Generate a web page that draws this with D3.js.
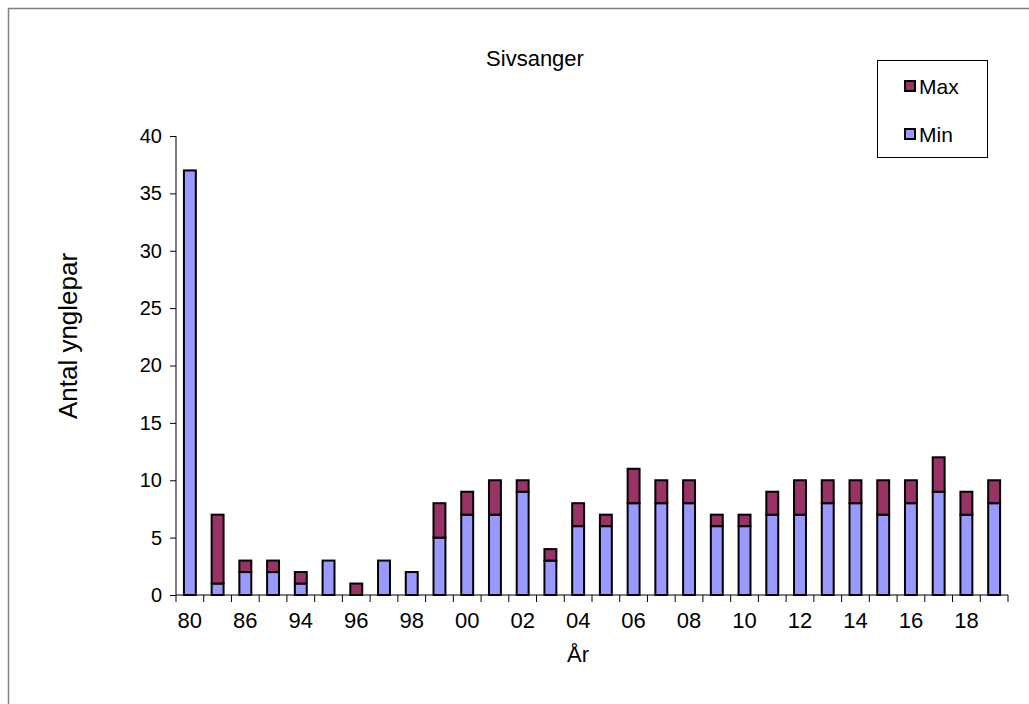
<!DOCTYPE html>
<html><head><meta charset="utf-8">
<script src="https://cdn.jsdelivr.net/npm/d3@7"></script>
<style>body{margin:0;background:#fff}svg{display:block;font-family:"Liberation Sans",Arial,sans-serif}</style>
</head><body><svg id="c" width="1029" height="704"></svg>
<script>
const categories = ["80","85","86","90","94","95","96","97","98","99","00","01","02","03","04","05","06","07","08","09","10","11","12","13","14","15","16","17","18","19"];
const minValues = [37,1,2,2,1,3,0,3,2,5,7,7,9,3,6,6,8,8,8,6,6,7,7,8,8,7,8,9,7,8];
const maxValues = [37,7,3,3,2,3,1,3,2,8,9,10,10,4,8,7,11,10,10,7,7,9,10,10,10,10,10,12,9,10];
const yTicks = [0,5,10,15,20,25,30,35,40];
const seriesNames = ["Max","Min"];
const colors = {Max:"#993366", Min:"#9999FF"};

const svg = d3.select("#c");
svg.append("rect").attr("x",8.5).attr("y",8.5).attr("width",1200).attr("height",900)
  .attr("fill","#fff").attr("stroke","#808080").attr("stroke-width",1.5);

const x = d3.scaleBand().domain(categories).range([176,1008]).paddingInner(0.57).paddingOuter(0.285);
const y = d3.scaleLinear().domain([0,40]).range([595,136]);

// y axis
const ya = svg.append("g").attr("transform","translate(176,0)")
  .call(d3.axisLeft(y).tickValues(yTicks).tickSize(6).tickPadding(8));
ya.selectAll("path,line").attr("stroke","#000");
ya.select(".domain").attr("d","M0,136V595");
ya.selectAll("text").attr("font-size",20).attr("fill","#000").attr("font-family","Liberation Sans, Arial");

// bars
const data = categories.map((c,i)=>({c,min:minValues[i],max:maxValues[i]}));
svg.append("g").selectAll("rect").data(data).join("rect")
  .attr("x",d=>x(d.c)).attr("width",x.bandwidth())
  .attr("y",d=>y(d.min)).attr("height",d=>y(0)-y(d.min))
  .attr("fill",colors.Min).attr("stroke","#000").attr("stroke-width",2);
svg.append("g").selectAll("rect").data(data.filter(d=>d.max>d.min)).join("rect")
  .attr("x",d=>x(d.c)).attr("width",x.bandwidth())
  .attr("y",d=>y(d.max)).attr("height",d=>y(d.min)-y(d.max))
  .attr("fill",colors.Max).attr("stroke","#000").attr("stroke-width",2);

// x axis
const xa = svg.append("g").attr("transform","translate(0,595)");
xa.append("line").attr("x1",176).attr("x2",1008).attr("stroke","#000");
const step = x.step();
const x0 = x.range()[0];
xa.selectAll("line.t").data(d3.range(categories.length+1)).join("line")
  .attr("x1",i=>x0+i*step).attr("x2",i=>x0+i*step)
  .attr("y1",0).attr("y2",7).attr("stroke","#000");
xa.selectAll("text").data(categories.filter((c,i)=>i%2===0)).join("text")
  .attr("x",c=>x(c)+x.bandwidth()/2).attr("y",33).attr("text-anchor","middle")
  .attr("font-size",22).text(c=>c);

// titles
svg.append("text").attr("x",535).attr("y",66).attr("text-anchor","middle").attr("font-size",22).text("Sivsanger");
svg.append("text").attr("transform","translate(77,336) rotate(-90)").attr("text-anchor","middle").attr("font-size",26).text("Antal ynglepar");
svg.append("text").attr("x",578).attr("y",662).attr("text-anchor","middle").attr("font-size",22).text("År");

// legend
const lg = svg.append("g");
lg.append("rect").attr("x",877.5).attr("y",60.5).attr("width",110).attr("height",97).attr("fill","#fff").attr("stroke","#000");
seriesNames.forEach((s,i)=>{
  const cy = 86 + i*48;
  lg.append("rect").attr("x",905).attr("y",cy-5).attr("width",10).attr("height",10).attr("fill",colors[s]).attr("stroke","#000").attr("stroke-width",2);
  lg.append("text").attr("x",919).attr("y",cy+8).attr("font-size",21).text(s);
});
</script></body></html>
